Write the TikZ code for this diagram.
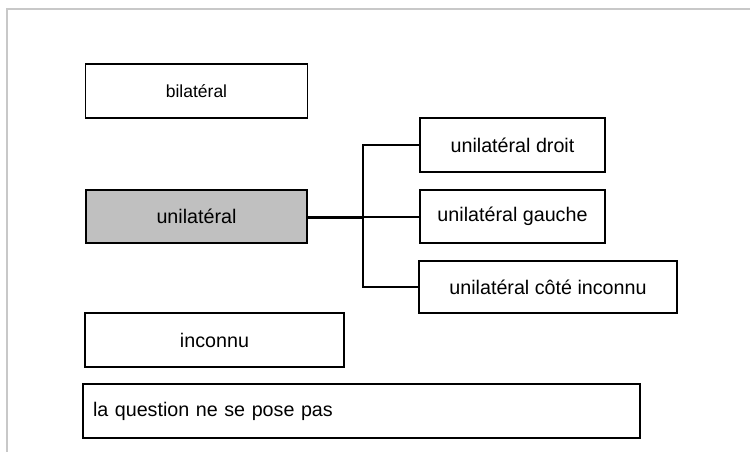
\documentclass[tikz,border=0pt]{standalone}
\usepackage{fontspec}
\setmainfont{Liberation Sans}
\usetikzlibrary{positioning}
\definecolor{framegray}{RGB}{200,200,200}
\definecolor{boxgray}{RGB}{192,192,192}
\tikzset{
  choice/.style={draw=black,line width=1.8pt,fill=white,inner sep=0pt,
    font=\fontsize{19.7}{23}\selectfont},
  link/.style={line width=1.8pt,black},
  mainlink/.style={line width=3pt,black}
}

\begin{document}
\begin{tikzpicture}[x=1pt,y=-1pt]
    	        % Page frame
    	        \useasboundingbox (0,0) rectangle (750,452);
    	        \draw[framegray,line width=2pt] (7,452) -- (7,9.5) -- (750,9.5);
    	        % Left column
    	        \node[choice,minimum width=222pt,minimum height=54pt,font=\fontsize{17.5}{21}\selectfont] (bil) at (196.5,91) {bilatéral};
    	        \node[choice,fill=boxgray,minimum width=221pt,minimum height=53pt] (uni) at (196.5,216.5) {unilatéral};
    	        \node[choice,minimum width=259pt,minimum height=54pt] (inc) at (214.5,340) {inconnu};
    	        \node[choice,text width=537pt,inner xsep=10pt,align=left,minimum height=54pt] (quest) at (361.5,411) {la question ne se pose pas};
    	        % Right column
    	        \node[choice,minimum width=185pt,minimum height=54pt] (droit) at (512.5,145) {unilatéral droit};
    	        \node[choice,minimum width=185pt,minimum height=53pt] (gauche) at (512.5,216.5) {unilatéral gauche};
    	        \node[choice,minimum width=258pt,minimum height=52pt] (cote) at (548,287) {unilatéral côté inconnu};
    	        % Branching
    	        \coordinate (fork) at (363,217);
    	        \draw[mainlink] (uni.east |- fork) -- (fork);
    	        \draw[link] (fork) -- (gauche.west |- fork);
    	        \draw[link] (droit.west) -| (fork) |- (cote.west);
\end{tikzpicture}
\end{document}
